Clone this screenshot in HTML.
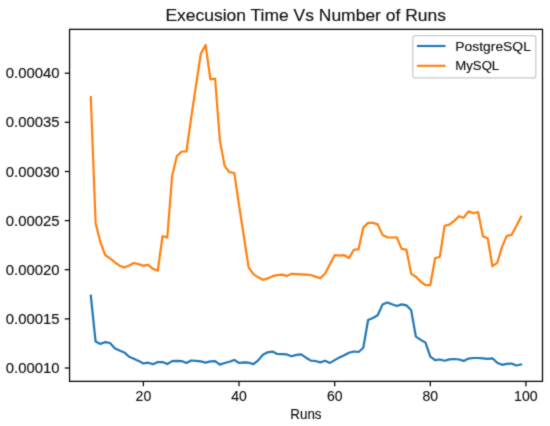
<!DOCTYPE html><html><head><meta charset="utf-8"><style>html,body{margin:0;padding:0;background:#fff;}svg{display:block;}text{font-family:"Liberation Sans", sans-serif;fill:#111;stroke:#111;stroke-width:0.15px;}</style></head><body>
<svg width="550" height="426" viewBox="0 0 550 426">
<defs><filter id="bl" color-interpolation-filters="sRGB" x="-5%" y="-5%" width="110%" height="110%"><feConvolveMatrix order="3" kernelMatrix="1 2 1 2 16 2 1 2 1" divisor="28" edgeMode="duplicate" preserveAlpha="false"/></filter></defs>
<rect x="0" y="0" width="550" height="426" fill="#fff"/>
<g filter="url(#bl)">
<polyline points="90.8,295.7 95.6,341.6 100.4,344.0 105.2,342.1 110.0,343.0 114.7,348.2 119.5,350.5 124.3,352.4 129.1,356.7 133.9,358.8 138.6,360.9 143.4,363.5 148.2,362.7 153.0,364.2 157.8,362.1 162.5,362.1 167.3,364.0 172.1,361.1 176.9,360.9 181.7,361.1 186.4,363.0 191.2,360.5 196.0,360.9 200.8,361.4 205.6,362.6 210.4,361.4 215.1,361.1 219.9,364.6 224.7,363.0 229.5,361.8 234.3,359.9 239.0,363.0 243.8,362.3 248.6,362.7 253.4,364.1 258.2,360.4 262.9,354.7 267.7,352.3 272.5,351.6 277.3,354.0 282.1,354.2 286.8,354.4 291.6,356.3 296.4,354.9 301.2,354.4 306.0,357.7 310.8,360.6 315.5,361.0 320.3,362.4 325.1,360.8 329.9,362.9 334.7,360.1 339.4,357.4 344.2,355.2 349.0,352.7 353.8,351.5 358.6,352.0 363.3,347.8 368.1,320.0 372.9,318.0 377.7,315.3 382.5,304.6 387.3,302.5 392.0,304.3 396.8,306.0 401.6,304.4 406.4,305.3 411.2,310.2 415.9,336.7 420.7,339.9 425.5,342.6 430.3,356.6 435.1,360.2 439.8,359.5 444.6,360.7 449.4,359.4 454.2,359.0 459.0,359.5 463.7,360.9 468.5,358.6 473.3,358.0 478.1,358.0 482.9,358.3 487.7,358.8 492.4,358.3 497.2,362.8 502.0,364.8 506.8,363.8 511.6,363.5 516.3,365.5 521.1,364.5" fill="none" stroke="#1f77b4" stroke-width="2.2" stroke-linejoin="round" stroke-linecap="square"/>
<polyline points="90.8,97.1 95.6,222.9 100.4,242.2 105.2,255.0 110.0,258.3 114.7,262.2 119.5,265.7 124.3,267.4 129.1,265.5 133.9,263.0 138.6,264.1 143.4,265.7 148.2,264.8 153.0,268.8 157.8,270.8 162.5,236.2 167.3,237.4 172.1,176.2 176.9,156.1 181.7,151.5 186.4,151.5 191.2,117.6 196.0,85.5 200.8,53.8 205.6,45.0 210.4,79.3 215.1,78.7 219.9,140.7 224.7,166.1 229.5,172.2 234.3,173.0 239.0,205.0 243.8,236.0 248.6,267.3 253.4,274.2 258.2,277.3 262.9,279.8 267.7,278.4 272.5,276.2 277.3,275.2 282.1,274.6 286.8,275.9 291.6,273.8 296.4,274.1 301.2,274.3 306.0,274.6 310.8,275.0 315.5,276.6 320.3,278.3 325.1,273.5 329.9,264.3 334.7,255.2 339.4,255.6 344.2,255.2 349.0,258.0 353.8,249.8 358.6,249.2 363.3,227.6 368.1,222.9 372.9,222.9 377.7,224.4 382.5,234.9 387.3,237.3 392.0,237.5 396.8,237.3 401.6,248.8 406.4,249.7 411.2,273.9 415.9,276.8 420.7,281.6 425.5,285.2 430.3,285.2 435.1,258.3 439.8,256.8 444.6,225.8 449.4,224.6 454.2,220.9 459.0,216.4 463.7,217.7 468.5,211.3 473.3,213.3 478.1,212.0 482.9,236.4 487.7,238.2 492.4,266.2 497.2,262.9 502.0,246.9 506.8,235.9 511.6,234.9 516.3,226.1 521.1,216.8" fill="none" stroke="#ff7f0e" stroke-width="2.2" stroke-linejoin="round" stroke-linecap="square"/>
<path d="M69.55,381.45 L69.55,29.4 L542.5,29.4 L542.5,381.45 Z" fill="none" stroke="#000" stroke-width="1.25" stroke-linejoin="miter"/>
<line x1="64.75" y1="368.0" x2="69.55" y2="368.0" stroke="#000" stroke-width="1.25"/>
<text x="59.6" y="373.0" font-size="14.3" text-anchor="end" textLength="53.8" lengthAdjust="spacingAndGlyphs">0.00010</text>
<line x1="64.75" y1="318.9" x2="69.55" y2="318.9" stroke="#000" stroke-width="1.25"/>
<text x="59.6" y="323.9" font-size="14.3" text-anchor="end" textLength="53.8" lengthAdjust="spacingAndGlyphs">0.00015</text>
<line x1="64.75" y1="269.7" x2="69.55" y2="269.7" stroke="#000" stroke-width="1.25"/>
<text x="59.6" y="274.7" font-size="14.3" text-anchor="end" textLength="53.8" lengthAdjust="spacingAndGlyphs">0.00020</text>
<line x1="64.75" y1="220.6" x2="69.55" y2="220.6" stroke="#000" stroke-width="1.25"/>
<text x="59.6" y="225.6" font-size="14.3" text-anchor="end" textLength="53.8" lengthAdjust="spacingAndGlyphs">0.00025</text>
<line x1="64.75" y1="171.5" x2="69.55" y2="171.5" stroke="#000" stroke-width="1.25"/>
<text x="59.6" y="176.5" font-size="14.3" text-anchor="end" textLength="53.8" lengthAdjust="spacingAndGlyphs">0.00030</text>
<line x1="64.75" y1="122.3" x2="69.55" y2="122.3" stroke="#000" stroke-width="1.25"/>
<text x="59.6" y="127.3" font-size="14.3" text-anchor="end" textLength="53.8" lengthAdjust="spacingAndGlyphs">0.00035</text>
<line x1="64.75" y1="73.2" x2="69.55" y2="73.2" stroke="#000" stroke-width="1.25"/>
<text x="59.6" y="78.2" font-size="14.3" text-anchor="end" textLength="53.8" lengthAdjust="spacingAndGlyphs">0.00040</text>
<line x1="143.4" y1="381.45" x2="143.4" y2="386.25" stroke="#000" stroke-width="1.25"/>
<text x="143.4" y="401.3" font-size="14.3" text-anchor="middle" textLength="15.6" lengthAdjust="spacingAndGlyphs">20</text>
<line x1="239.0" y1="381.45" x2="239.0" y2="386.25" stroke="#000" stroke-width="1.25"/>
<text x="239.0" y="401.3" font-size="14.3" text-anchor="middle" textLength="15.6" lengthAdjust="spacingAndGlyphs">40</text>
<line x1="334.7" y1="381.45" x2="334.7" y2="386.25" stroke="#000" stroke-width="1.25"/>
<text x="334.7" y="401.3" font-size="14.3" text-anchor="middle" textLength="15.6" lengthAdjust="spacingAndGlyphs">60</text>
<line x1="430.3" y1="381.45" x2="430.3" y2="386.25" stroke="#000" stroke-width="1.25"/>
<text x="430.3" y="401.3" font-size="14.3" text-anchor="middle" textLength="15.6" lengthAdjust="spacingAndGlyphs">80</text>
<line x1="525.9" y1="381.45" x2="525.9" y2="386.25" stroke="#000" stroke-width="1.25"/>
<text x="525.9" y="401.3" font-size="14.3" text-anchor="middle" textLength="23.6" lengthAdjust="spacingAndGlyphs">100</text>
<text x="305.9" y="418.8" font-size="14.0" text-anchor="middle" textLength="31.2" lengthAdjust="spacingAndGlyphs">Runs</text>
<text x="305.7" y="20.8" font-size="16.4" text-anchor="middle" textLength="280.6" lengthAdjust="spacingAndGlyphs">Execusion Time Vs Number of Runs</text>
<rect x="412.85" y="35.6" width="123.0" height="42.3" rx="2.5" ry="2.5" fill="#fff" fill-opacity="0.8" stroke="#c8c8c8" stroke-width="1.2"/>
<line x1="418.0" y1="46.0" x2="444.5" y2="46.0" stroke="#1f77b4" stroke-width="2.1" stroke-linecap="square"/>
<line x1="418.0" y1="65.8" x2="444.5" y2="65.8" stroke="#ff7f0e" stroke-width="2.1" stroke-linecap="square"/>
<text x="455.3" y="51.2" font-size="13.0" textLength="75.6" lengthAdjust="spacingAndGlyphs">PostgreSQL</text>
<text x="455.3" y="70.0" font-size="13.0" textLength="43.9" lengthAdjust="spacingAndGlyphs">MySQL</text>
</g></svg></body></html>
